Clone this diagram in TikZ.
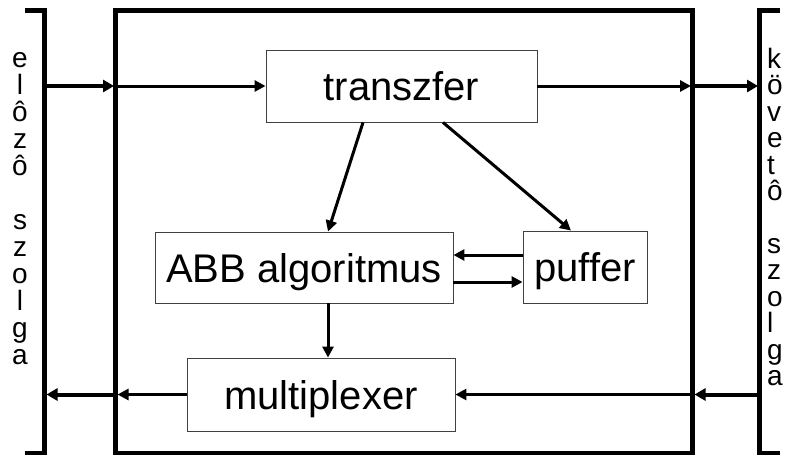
\documentclass[tikz,border=0pt]{standalone}
\usepackage{fontspec}
\setmainfont{Liberation Sans}
\usetikzlibrary{arrows.meta}
\begin{document}
\begin{tikzpicture}[x=1pt,y=-1pt,
  box/.style={draw=black!75, line width=0.9pt, inner sep=0pt, text height=29pt, text depth=0pt, font=\fontsize{40}{48}\selectfont},
  frame/.style={line width=4.5pt},
  arr/.style={line width=3pt, -{Triangle[length=11pt,width=11pt]}},
  outarr/.style={line width=4pt, -{Triangle[length=11pt,width=12pt]}},
  side/.style={font=\fontsize{28}{28}\selectfont, inner sep=0pt, text height=17pt, text depth=4pt, anchor=base},
  rside/.style={side, anchor=base west}]
\clip (0,0) rectangle (791,460);
% frames
\draw[frame] (25,10.5) -- (44.5,10.5) -- (44.5,453) -- (25,453);
\draw[frame] (115.5,10.5) rectangle (692.5,453);
\draw[frame] (780,10.5) -- (759.5,10.5) -- (759.5,453) -- (780,453);
% boxes
\node[box, minimum width=271pt, minimum height=72pt] (tr) at (401.5,86) {transzfer};
\node[box, minimum width=298pt, minimum height=71pt] (abb) at (304,267.5) {ABB algoritmus};
\node[box, minimum width=124pt, minimum height=72pt] (pf) at (585,267) {puffer};
\node[box, minimum width=268pt, minimum height=73pt] (mux) at (321,394.5) {multiplexer};
% frame coordinates
\coordinate (Lin) at (44.5,86);
\coordinate (Min) at (114,86);
\coordinate (Mout) at (691,86);
\coordinate (Rin) at (758,86);
\coordinate (Rbot) at (759.5,394.5);
\coordinate (Mrbot) at (694.5,394.5);
\coordinate (Mlbot) at (117.5,394.5);
\coordinate (Lbot) at (46.5,394.5);
% connectors
\draw[outarr] (Lin) -- (Min);
\draw[arr] (Min) -- (tr.west);
\draw[arr] (tr.east) -- (Mout);
\draw[outarr] (Mout) -- (Rin);
\draw[outarr] (Rbot) -- (Mrbot);
\draw[arr] (Mrbot) -- (mux.east);
\draw[arr] (mux.west) -- (Mlbot);
\draw[outarr] (Mlbot) -- (Lbot);
\draw[arr] ([xshift=-38.5pt]tr.south) -- ([xshift=24pt]abb.north);
\draw[arr] ([xshift=41.5pt]tr.south) -- ([xshift=-14pt]pf.north);
\draw[arr] ([yshift=12pt]pf.west) -- ([yshift=12.5pt]abb.east);
\draw[arr] ([yshift=-14.5pt]abb.east) -- ([yshift=-15pt]pf.west);
\draw[arr] ([xshift=24pt]abb.south) -- ([xshift=7pt]mux.north);
% side texts
\foreach \c [count=\i] in {e,l,ô,z,ô}
  \node[side] (la\i) at (20,{67+27*(\i-1)}) {\c};
\foreach \c [count=\i] in {s,z,o,l,g,a}
  \node[side] (lb\i) at (20,{229+27*(\i-1)}) {\c};
\begin{scope}
\clip (762,0) rectangle (784,460);
\foreach \c [count=\i] in {k,ö,v,e,t,ô}
  \node[rside] (ra\i) at (767,{68+26.5*(\i-1)}) {\c};
\foreach \c [count=\i] in {s,z,o,l,g,a}
  \node[rside] (rb\i) at (767,{253+26.5*(\i-1)}) {\c};
\end{scope}
\end{tikzpicture}
\end{document}
